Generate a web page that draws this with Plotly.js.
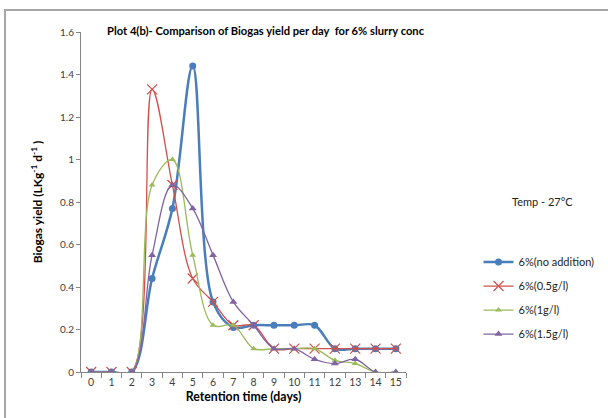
<!DOCTYPE html>
<html>
<head>
<meta charset="utf-8">
<script src="https://cdn.plot.ly/plotly-3.0.1.min.js"></script>
<style>
  html, body { margin: 0; padding: 0; background: #fff; }
  #wrap { position: relative; width: 608px; height: 418px; }
  #frame { position: absolute; left: 4px; top: 9px; width: 610px; height: 420px;
           border-top: 2px solid #a6a6a6; border-left: 2px solid #a6a6a6; pointer-events: none; }
  #chart { width: 608px; height: 418px; }
</style>
</head>
<body>
<div id="wrap">
<div id="chart"></div>
<div id="frame"></div>
</div>
<script>
const days = ['0','1','2','3','4','5','6','7','8','9','10','11','12','13','14','15'];
const noAddition = [0,0,0,0.44,0.77,1.44,0.33,0.21,0.22,0.22,0.22,0.22,0.11,0.11,0.11,0.11];
const half = [0,0,0,1.33,0.88,0.44,0.33,0.22,0.22,0.11,0.11,0.11,0.11,0.11,0.11,0.11];
const one = [0,0,0,0.88,1.0,0.55,0.22,0.22,0.11,0.11,0.11,0.11,0.055,0.04,0,0];
const oneHalf = [0,0,0,0.55,0.88,0.77,0.55,0.33,0.22,0.11,0.11,0.06,0.04,0.06,0,0];
const seriesNames = ['6%(no addition)','6%(0.5g/l)','6%(1g/l)','6%(1.5g/l)'];

const F = 'Lato, "Open Sans", sans-serif';
const traces = [
  {x: days, y: noAddition, name: seriesNames[0], type: 'scatter', mode: 'lines+markers',
   line: {color: '#4A7EBB', width: 2.5, shape: 'spline', smoothing: 1},
   marker: {symbol: 'circle', size: 7, color: '#4A7EBB'}, legendgroup: 'a'},
  {x: days, y: half, name: seriesNames[1], type: 'scatter', mode: 'lines+markers',
   line: {color: '#D0504D', width: 1.3, shape: 'spline', smoothing: 1},
   marker: {symbol: 'x-thin-open', size: 10, color: '#D0504D', line: {width: 1.2, color: '#D0504D'}}, legendgroup: 'b'},
  {x: days, y: one, name: seriesNames[2], type: 'scatter', mode: 'lines+markers',
   line: {color: '#9BBB59', width: 1.3, shape: 'spline', smoothing: 1},
   marker: {symbol: 'triangle-up', size: 6, color: '#9BBB59'}, legendgroup: 'c'},
  {x: days, y: oneHalf, name: seriesNames[3], type: 'scatter', mode: 'lines+markers',
   line: {color: '#8064A2', width: 1.3, shape: 'spline', smoothing: 1},
   marker: {symbol: 'triangle-up', size: 7, color: '#8064A2'}, legendgroup: 'd'}
];

const layout = {
  width: 608, height: 418,
  margin: {l: 81, r: 202, t: 32, b: 46},
  paper_bgcolor: '#fff', plot_bgcolor: '#fff',
  font: {family: F, size: 10, color: '#404040'},
  showlegend: true,
  title: {text: 'Plot 4(b)- Comparison of Biogas yield per day  for 6% slurry conc',
          font: {family: F, size: 11.2, color: '#000', weight: 'bold'},
          xref: 'paper', x: 0.08, xanchor: 'left', yref: 'container', y: 0.925, yanchor: 'middle'},
  xaxis: {type: 'category', range: [-0.5, 15.5], tickson: 'boundaries', ticks: 'outside', ticklen: 5,
          tickangle: 0, tickcolor: '#868686', showline: true, linecolor: '#868686', linewidth: 1,
          showgrid: false, zeroline: false, tickfont: {size: 10.5, color: '#404040'},
          title: {text: 'Retention time (days)', font: {size: 12.3, color: '#000', weight: 'bold'}, standoff: 5}},
  yaxis: {range: [0, 1.6], dtick: 0.2, ticks: 'outside', ticklen: 4, tickcolor: '#868686',
          showline: true, linecolor: '#868686', linewidth: 1, showgrid: false, zeroline: false,
          tickfont: {size: 10, color: '#404040'},
          title: {text: 'Biogas yield (LKg<sup>-1</sup> d<sup>-1</sup> )', font: {size: 12, color: '#000', weight: 'bold'}, standoff: 14}},
  legend: {xref: 'container', yref: 'container', x: 0.787, xanchor: 'left', y: 0.287, yanchor: 'middle', tracegroupgap: 5,
           font: {size: 11, color: '#222'}, bgcolor: 'rgba(0,0,0,0)', itemwidth: 30},
  annotations: [{text: 'Temp - 27°C', xref: 'paper', yref: 'paper', x: 1.42, y: 0.502,
                 xanchor: 'center', yanchor: 'middle', showarrow: false, font: {size: 11, color: '#222'}}]
};

Plotly.newPlot('chart', traces, layout, {displayModeBar: false, responsive: false});
</script>
</body>
</html>
